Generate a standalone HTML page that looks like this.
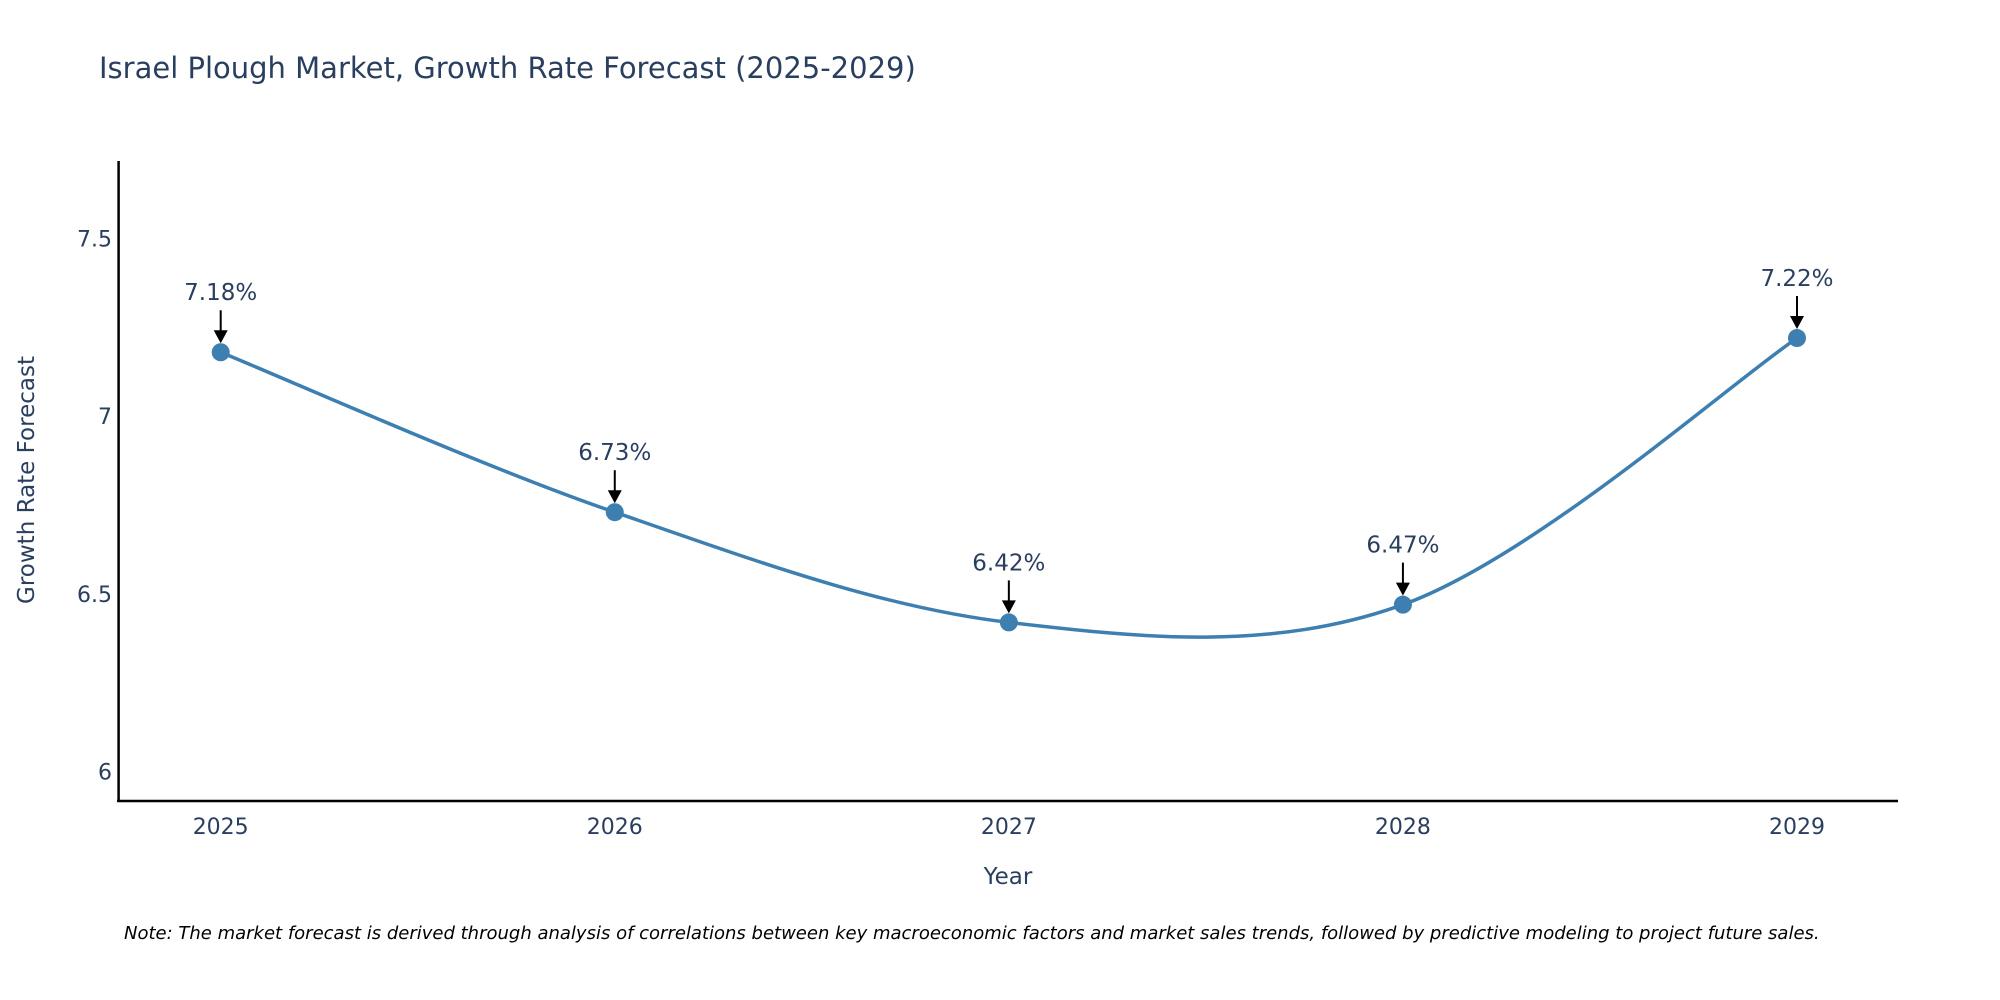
<!DOCTYPE html>
<html><head><meta charset="utf-8">
<style>
html,body{margin:0;padding:0;background:#fff;width:2000px;height:1000px;overflow:hidden}
svg{display:block;font-family:"DejaVu Sans","Liberation Sans",sans-serif}
</style></head>
<body>
<svg id="chart" width="2000" height="1000" viewBox="0 0 2000 1000">
<text x="99" y="78" font-size="29" fill="#2a3f5f">Israel Plough Market, Growth Rate Forecast (2025-2029)</text>
<g id="axes"></g>
<g id="series"></g>
<text x="1008" y="884" font-size="23" fill="#2a3f5f" text-anchor="middle">Year</text>
<text transform="translate(34,480) rotate(-90)" font-size="23" fill="#2a3f5f" text-anchor="middle">Growth Rate Forecast</text>
<text x="124" y="939" font-size="18" font-style="italic" fill="#000">Note: The market forecast is derived through analysis of correlations between key macroeconomic factors and market sales trends, followed by predictive modeling to project future sales.</text>
</svg>
<script>
const years = [2025, 2026, 2027, 2028, 2029];
const growth = [7.18, 6.73, 6.42, 6.47, 7.22];
const labels = ["7.18%", "6.73%", "6.42%", "6.47%", "7.22%"];
const yTicks = [6, 6.5, 7, 7.5];

const NS = "http://www.w3.org/2000/svg";
const X0 = 220.7, X1 = 1797, Y6 = 771.7, Y75 = 238.5;
const xs = y => X0 + (y - years[0]) * (X1 - X0) / (years[years.length-1] - years[0]);
const ys = v => Y6 + (v - 6) * (Y75 - Y6) / 1.5;
function mk(tag, attrs, parent){const e=document.createElementNS(NS,tag);for(const k in attrs)e.setAttribute(k,attrs[k]);parent.appendChild(e);return e;}
const axes = document.getElementById('axes'), series = document.getElementById('series');

const yl = mk('line',{x1:118.6,y1:161,x2:118.6,y2:801,stroke:'#000','stroke-width':2.5},axes);


const xl = mk('line',{x1:117,y1:801,x2:1898,y2:801,stroke:'#000','stroke-width':2.5},axes);



yTicks.forEach(t=>{
  const e = mk('text',{x:112,y:ys(t)+8,'font-size':22,fill:'#2a3f5f','text-anchor':'end'},axes);
  e.textContent = String(t);
  
  
});
years.forEach(yr=>{
  const e = mk('text',{x:xs(yr),y:834,'font-size':22,fill:'#2a3f5f','text-anchor':'middle'},axes);
  e.textContent = String(yr);
  
  
});

const pts = years.map((yr,i)=>[xs(yr), ys(growth[i])]);
let d = `M${pts[0][0]},${pts[0][1]}`;
for(let i=0;i<pts.length-1;i++){
  const p0=pts[Math.max(0,i-1)],p1=pts[i],p2=pts[i+1],p3=pts[Math.min(pts.length-1,i+2)];
  const k=1/6;
  d+=` C${p1[0]+(p2[0]-p0[0])*k},${p1[1]+(p2[1]-p0[1])*k} ${p2[0]-(p3[0]-p1[0])*k},${p2[1]-(p3[1]-p1[1])*k} ${p2[0]},${p2[1]}`;
}
const line = mk('path',{d:d,fill:'none',stroke:'#3d7fb0','stroke-width':3.5},series);



pts.forEach((p,i)=>{
  const c = mk('circle',{cx:p[0],cy:p[1],r:9,fill:'#3d7fb0'},series);
  
  
  const a = mk('line',{x1:p[0],y1:p[1]-42,x2:p[0],y2:p[1]-20,stroke:'#000','stroke-width':2},series);
  
  
  const h = mk('path',{d:`M${p[0]-7},${p[1]-22} L${p[0]+7},${p[1]-22} L${p[0]},${p[1]-9} Z`,fill:'#000'},series);
  
  
  const t = mk('text',{x:p[0],y:p[1]-52,'font-size':23,fill:'#2a3f5f','text-anchor':'middle'},series);
  t.textContent = labels[i];
  
  
});
</script>
</body></html>
